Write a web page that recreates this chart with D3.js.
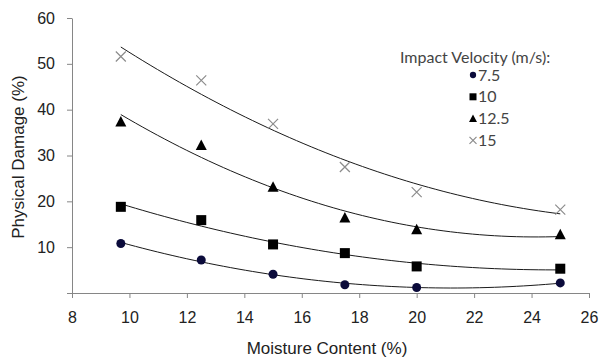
<!DOCTYPE html>
<html>
<head>
<meta charset="utf-8">
<script src="https://cdnjs.cloudflare.com/ajax/libs/d3/7.8.5/d3.min.js"></script>
<style>
  body { margin: 0; background: #fff; }
  svg { display: block; }
</style>
</head>
<body>
<svg id="chart" width="600" height="358"></svg>
<script>
// data
var moisture = [9.7, 12.5, 15, 17.5, 20, 25];
var v75 = [10.8, 7.2, 4.1, 1.8, 1.2, 2.2];
var v10 = [18.8, 15.9, 10.6, 8.7, 5.8, 5.3];
var v125 = [37.4, 32.3, 23.2, 16.5, 13.9, 12.8];
var v15 = [51.6, 46.4, 36.9, 27.5, 22.0, 18.2];
var seriesNames = ["7.5", "10", "12.5", "15"];
var xTicks = [8, 10, 12, 14, 16, 18, 20, 22, 24, 26];
var yTicks = [0, 10, 20, 30, 40, 50, 60];

var svg = d3.select("#chart");
var margin = { top: 18, right: 11, bottom: 65, left: 72 };
var width = 600 - margin.left - margin.right;
var height = 358 - margin.top - margin.bottom;

var g = svg.append("g")
  .attr("transform", "translate(" + margin.left + "," + margin.top + ")");

var x = d3.scaleLinear().domain([8, 26]).range([0, width]);
var y = d3.scaleLinear().domain([0, 60]).range([height, 0]);

// 2nd order polynomial trendline (least squares), like excel
function polyFit(xs, ys) {
  var s = [0, 0, 0, 0, 0], t = [0, 0, 0];
  for (var i = 0; i < xs.length; i++) {
    var p = 1;
    for (var k = 0; k < 5; k++) { s[k] += p; if (k < 3) t[k] += p * ys[i]; p *= xs[i]; }
  }
  var A = [[s[0], s[1], s[2], t[0]], [s[1], s[2], s[3], t[1]], [s[2], s[3], s[4], t[2]]];
  for (var c = 0; c < 3; c++) {
    for (var r = c + 1; r < 3; r++) {
      var f = A[r][c] / A[c][c];
      for (var j = c; j < 4; j++) A[r][j] -= f * A[c][j];
    }
  }
  var b = [0, 0, 0];
  for (var r2 = 2; r2 >= 0; r2--) {
    var sum = A[r2][3];
    for (var j2 = r2 + 1; j2 < 3; j2++) sum -= A[r2][j2] * b[j2];
    b[r2] = sum / A[r2][r2];
  }
  return function (v) { return b[0] + b[1] * v + b[2] * v * v; };
}

var series = [
  { name: seriesNames[0], values: v75, shape: "circle", color: "#0b0b3b" },
  { name: seriesNames[1], values: v10, shape: "square", color: "#000" },
  { name: seriesNames[2], values: v125, shape: "triangle", color: "#000" },
  { name: seriesNames[3], values: v15, shape: "cross", color: "#8c8c8c" }
];

// axes
var xAxis = g.append("g")
  .attr("transform", "translate(0," + height + ")")
  .call(d3.axisBottom(x).tickValues(xTicks).tickSize(5).tickPadding(14).tickSizeOuter(0));
var yAxis = g.append("g")
  .call(d3.axisLeft(y).tickValues(yTicks).tickSize(5).tickPadding(12).tickSizeOuter(0)
    .tickFormat(function (d) { return d === 0 ? "" : d; }));

[xAxis, yAxis].forEach(function (a) {
  a.selectAll("path, line").attr("stroke", "#868686");
  a.selectAll("text")
    .attr("font-family", "Liberation Sans, Arial, sans-serif")
    .attr("font-size", "16px")
    .attr("fill", "#222");
});

// trendlines
var line = d3.line()
  .x(function (d) { return x(d[0]); })
  .y(function (d) { return y(d[1]); });

series.forEach(function (s) {
  var fit = polyFit(moisture, s.values);
  var x0 = d3.min(moisture), x1 = d3.max(moisture);
  var pts = d3.range(0, 61).map(function (i) {
    var xv = x0 + (x1 - x0) * i / 60;
    return [xv, fit(xv)];
  });
  g.append("path")
    .datum(pts)
    .attr("fill", "none")
    .attr("stroke", "#1a1a1a")
    .attr("stroke-width", 1)
    .attr("d", line);
});

// markers
function drawMarker(sel, shape, color, size) {
  if (shape === "circle") {
    sel.append("circle").attr("r", size * 0.45).attr("fill", color);
  } else if (shape === "square") {
    sel.append("rect").attr("x", -size / 2).attr("y", -size / 2)
      .attr("width", size).attr("height", size).attr("fill", color);
  } else if (shape === "triangle") {
    var h = size;
    sel.append("path")
      .attr("d", "M0," + (-h / 2 - 0.5) + "L" + (h / 2 + 0.5) + "," + (h / 2) + "L" + (-h / 2 - 0.5) + "," + (h / 2) + "Z")
      .attr("fill", color);
  } else {
    var c = size / 2;
    sel.append("path")
      .attr("d", "M" + (-c) + "," + (-c) + "L" + c + "," + c + "M" + (-c) + "," + c + "L" + c + "," + (-c))
      .attr("stroke", color).attr("stroke-width", 1.2).attr("fill", "none");
  }
}

series.forEach(function (s) {
  g.append("g").selectAll("g")
    .data(s.values)
    .enter()
    .append("g")
    .attr("transform", function (d, i) {
      return "translate(" + x(moisture[i]) + "," + y(d) + ")";
    })
    .each(function () { drawMarker(d3.select(this), s.shape, s.color, 10); });
});

// axis titles
svg.append("text")
  .attr("x", 327)
  .attr("y", 354)
  .attr("text-anchor", "middle")
  .attr("font-family", "Liberation Sans, Arial, sans-serif")
  .attr("font-size", "17px")
  .attr("fill", "#222")
  .text("Moisture Content (%)");

svg.append("text")
  .attr("transform", "translate(24," + 157 + ") rotate(-90)")
  .attr("text-anchor", "middle")
  .attr("font-family", "Liberation Sans, Arial, sans-serif")
  .attr("font-size", "17px")
  .attr("fill", "#222")
  .text("Physical Damage (%)");

// legend
var legend = svg.append("g")
  .attr("font-family", "Lato, Carlito, sans-serif")
  .attr("font-size", "16px")
  .attr("fill", "#444");

legend.append("text")
  .attr("x", 400)
  .attr("y", 63)
  .text("Impact Velocity (m/s):");

var item = legend.selectAll("g.item")
  .data(series)
  .enter()
  .append("g")
  .attr("class", "item")
  .attr("transform", function (d, i) {
    return "translate(473," + (75 + i * 21.8) + ")";
  });

item.each(function (d) { drawMarker(d3.select(this), d.shape, d.color, 7); });

item.append("text")
  .attr("x", 5)
  .attr("y", 5.5)
  .text(function (d) { return d.name; });
</script>
</body>
</html>
